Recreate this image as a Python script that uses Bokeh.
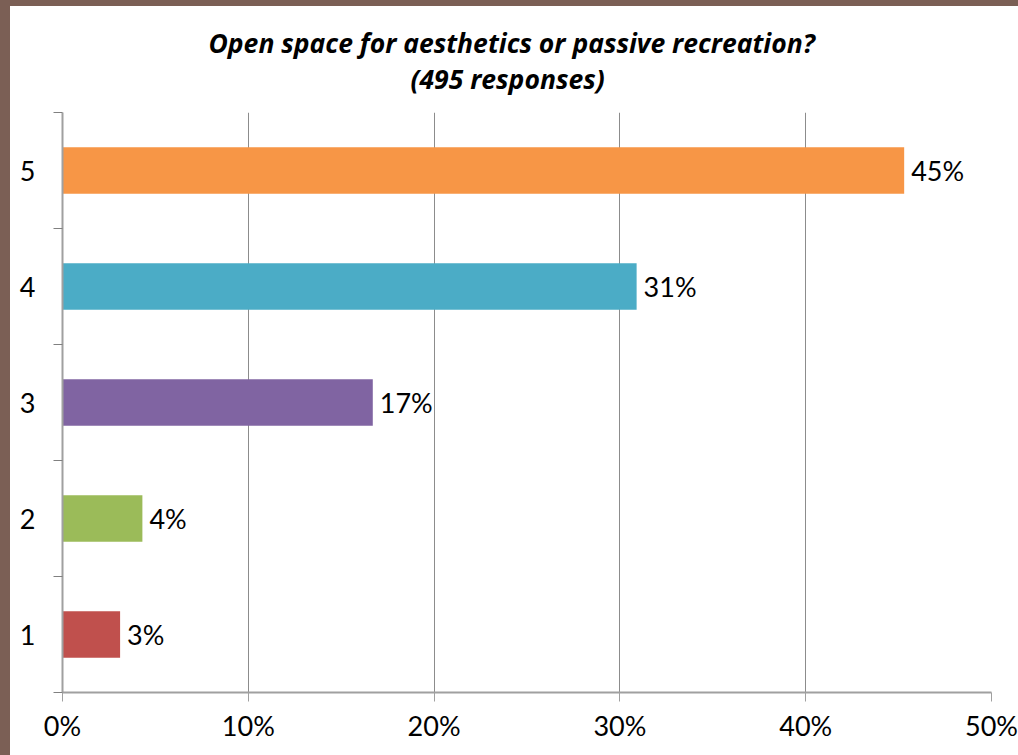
from bokeh.plotting import figure
from bokeh.models import Range1d, FixedTicker, NumeralTickFormatter, ColumnDataSource, Title, Div
from bokeh.layouts import row, column
from bokeh.core.properties import value
from bokeh.embed import file_html
from bokeh.resources import INLINE

# Data
ratings = [1, 2, 3, 4, 5]
shares = [0.031, 0.043, 0.167, 0.309, 0.453]
share_labels = ["3%", "4%", "17%", "31%", "45%"]
colors = ["#C0504D", "#9BBB59", "#8064A2", "#4BACC6", "#F79646"]
x_ticks = [0, 0.1, 0.2, 0.3, 0.4, 0.5]
title_line1 = "Open space for aesthetics or passive recreation?"
title_line2 = "(495 responses)"

FONT = "Lato"
TITLE_FONT = "Open Sans"
AXIS_COLOR = "#A0A0A0"
GRID_COLOR = "#8C8C8C"
FRAME_BROWN = "#7B5F55"

src = ColumnDataSource(dict(y=ratings, x=shares, label=share_labels, color=colors))

p = figure(width=1008, height=749, output_backend="svg", toolbar_location=None,
           x_range=Range1d(0, 0.5), y_range=Range1d(0.5, 5.5),
           min_border_left=52, min_border_right=27, min_border_top=106, min_border_bottom=63,
           margin=0)
p.outline_line_color = None
p.background_fill_color = "white"
p.border_fill_color = "white"
p.title.visible = False

# spacer between the frame and the two title lines
t0 = Title(text=" ", text_font_size="1px", standoff=13.5)
t2 = Title(text=title_line2, align="left", offset=348, text_font=TITLE_FONT,
           text_font_style="bold italic", text_font_size="26.5px", text_color="black", standoff=-2)
t1 = Title(text=title_line1, align="left", offset=146, text_font=TITLE_FONT,
           text_font_style="bold italic", text_font_size="26.5px", text_color="black", standoff=-2)
p.add_layout(t0, "above")
p.add_layout(t2, "above")
p.add_layout(t1, "above")

p.hbar(y="y", right="x", left=0, height=0.4, color="color", line_color=None, source=src)
p.text(x="x", y="y", text="label", source=src, x_offset=7, text_baseline="middle",
       text_align="left", text_font=value(FONT), text_font_size="27px", text_color="black")

# X axis
xa = p.xaxis[0]
xa.ticker = FixedTicker(ticks=x_ticks)
xa.formatter = NumeralTickFormatter(format="0%")
xa.axis_line_color = AXIS_COLOR
xa.axis_line_width = 2
xa.major_tick_line_color = AXIS_COLOR
xa.major_tick_line_width = 1
xa.major_tick_out = 9
xa.major_tick_in = 0
xa.minor_tick_line_color = None
xa.major_label_text_font = FONT
xa.major_label_text_font_size = "27px"
xa.major_label_text_color = "black"
xa.major_label_standoff = 7

# Y axis
ya = p.yaxis[0]
ya.ticker = FixedTicker(ticks=ratings, minor_ticks=[0.5, 1.5, 2.5, 3.5, 4.5, 5.5])
ya.axis_line_color = AXIS_COLOR
ya.axis_line_width = 2
ya.major_tick_line_color = None
ya.major_tick_out = 0
ya.major_tick_in = 0
ya.minor_tick_line_color = "#808080"
ya.minor_tick_line_width = 1
ya.minor_tick_out = 9
ya.minor_tick_in = 0
ya.major_label_text_font = FONT
ya.major_label_text_font_size = "27px"
ya.major_label_text_color = "black"
ya.major_label_standoff = 18

p.xgrid.ticker = FixedTicker(ticks=x_ticks)
p.xgrid.grid_line_color = GRID_COLOR
p.xgrid.grid_line_width = 1
p.ygrid.grid_line_color = None

# brown slide frame along the top and left edges
left_strip = Div(text="", width=10, height=755, margin=0, styles={"background-color": FRAME_BROWN})
top_strip = Div(text="", width=1008, height=6, margin=0, styles={"background-color": FRAME_BROWN})
layout = row(left_strip, column(top_strip, p, spacing=0, margin=0), spacing=0, margin=0)

html = file_html(layout, INLINE)
open("out.html", "w").write(html)
